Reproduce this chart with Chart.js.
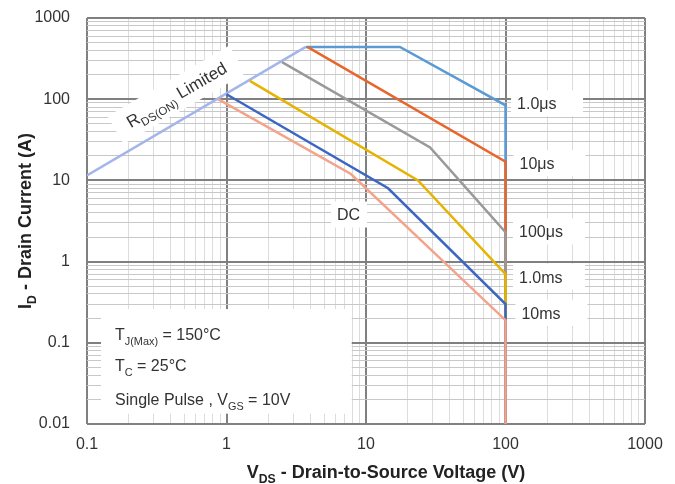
<!DOCTYPE html>
<html lang="en">
<head>
  <meta charset="UTF-8">
  <title>Maximum Safe Operating Area</title>
  <script src="https://cdn.jsdelivr.net/npm/chart.js"></script>
  <style>
    html, body {
      margin: 0;
      padding: 0;
      background: #fff;
    }

    #wrap {
      width: 675px;
      height: 484px;
      position: relative;
    }
  </style>
</head>
<body>
  <div id="wrap"><canvas id="soa"></canvas></div>

  <script>
    // breakpoints: V_DS (V) and I_D (A)
    const rdsV = [0.1, 3.7];
    const rdsI = [11.5, 440];
    const us1V = [3.7, 17.5, 100, 100];
    const us1I = [440, 440, 84, 0.01];
    const us10V = [3.8, 100, 100];
    const us10I = [440, 17, 0.01];
    const us100V = [2.5, 28.8, 100, 100];
    const us100I = [286, 25.5, 2.3, 0.01];
    const ms1V = [1.47, 23.6, 100, 100];
    const ms1I = [168, 10, 0.7, 0.01];
    const ms10V = [1.0, 14.4, 100, 100];
    const ms10I = [115, 8, 0.3, 0.01];
    const dcV = [0.87, 7.8, 100, 100];
    const dcI = [100, 12, 0.19, 0.01];

    const xTickLabels = ['0.1', '1', '10', '100', '1000'];
    const yTickLabels = ['0.01', '0.1', '1', '10', '100', '1000'];

    const FONT = "'Liberation Sans', Arial, sans-serif";

    function pts(xs, ys) {
      return xs.map((x, i) => ({ x: x, y: ys[i] }));
    }

    // every 1..9 x 10^n between the first and last decade label
    function logTicks(labels) {
      const lo = parseFloat(labels[0]);
      const hi = parseFloat(labels[labels.length - 1]);
      const out = [];
      for (let d = lo; d <= hi * 1.0001; d = +(d * 10).toPrecision(6)) {
        for (let m = 1; m <= 9; m++) {
          const v = +(d * m).toPrecision(6);
          if (v <= hi * 1.0001) out.push({ value: v });
        }
      }
      return out;
    }

    function labelFor(labels, value) {
      const hit = labels.find(s => Math.abs(parseFloat(s) / value - 1) < 1e-6);
      return hit === undefined ? '' : hit;
    }

    function isDecade(v) {
      const l = Math.log10(v);
      return Math.abs(l - Math.round(l)) < 1e-6;
    }

    // text runs with subscripts: [['I'], ['D', true], [' - Drain']]
    function richWidth(ctx, parts, size, bold) {
      let w = 0;
      parts.forEach(p => {
        ctx.font = (bold ? 'bold ' : '') + (p[1] ? size * 0.68 : size) + 'px ' + FONT;
        w += ctx.measureText(p[0]).width;
      });
      return w;
    }

    function drawRich(ctx, parts, x, y, size, bold, align) {
      const w = richWidth(ctx, parts, size, bold);
      let cx = align === 'center' ? x - w / 2 : x;
      ctx.textAlign = 'left';
      ctx.textBaseline = 'alphabetic';
      parts.forEach(p => {
        ctx.font = (bold ? 'bold ' : '') + (p[1] ? size * 0.68 : size) + 'px ' + FONT;
        ctx.fillText(p[0], cx, y + (p[1] ? size * 0.3 : 0));
        cx += ctx.measureText(p[0]).width;
      });
      return w;
    }

    // curve labels, anchored in data units (left edge, vertical centre)
    const curveNotes = [
      { parts: [['1.0\u03bcs']], v: 121, a: 89, box: 72 },
      { parts: [['10\u03bcs']], v: 126, a: 16.2, box: 72 },
      { parts: [['100\u03bcs']], v: 125, a: 2.35, box: 72 },
      { parts: [['1.0ms']], v: 125, a: 0.65, box: 72 },
      { parts: [['10ms']], v: 130, a: 0.234, box: 72 },
      { parts: [['DC']], v: 6.2, a: 3.8, box: 36 }
    ];

    const notesPlugin = {
      id: 'notes',
      beforeDatasetsDraw(chart) {
        const ctx = chart.ctx;
        const xs = chart.scales.x;
        const ys = chart.scales.y;
        const size = 16;
        ctx.save();

        // conditions box
        const bx0 = xs.getPixelForValue(0.126);
        const bx1 = xs.getPixelForValue(7.9);
        const by0 = ys.getPixelForValue(0.26);
        const by1 = ys.getPixelForValue(0.0134);
        ctx.fillStyle = '#fff';
        ctx.fillRect(bx0, by0, bx1 - bx0, by1 - by0);
        ctx.fillStyle = '#333';
        drawRich(ctx, [['T'], ['J(Max)', true], [' = 150\u00b0C']], bx0 + 14, by0 + 31, size, false);
        drawRich(ctx, [['T'], ['C', true], [' = 25\u00b0C']], bx0 + 14, by0 + 62, size, false);
        drawRich(ctx, [['Single Pulse , V'], ['GS', true], [' = 10V']], bx0 + 14, by0 + 96, size, false);

        // labels for each curve
        curveNotes.forEach(n => {
          const x = xs.getPixelForValue(n.v);
          const y = ys.getPixelForValue(n.a);
          ctx.fillStyle = '#fff';
          ctx.fillRect(x - 6, y - 13, n.box, 26);
          ctx.fillStyle = '#333';
          drawRich(ctx, n.parts, x, y + size * 0.36, size, false);
        });

        // R_DS(ON) Limited, laid along the limit line
        const rx = xs.getPixelForValue(0.46);
        const ry = ys.getPixelForValue(98);
        const rParts = [['R'], ['DS(ON)', true], [' Limited']];
        const rw = richWidth(ctx, rParts, 17, false);
        ctx.translate(rx, ry);
        ctx.rotate(-Math.atan2(ys.getPixelForValue(1) - ys.getPixelForValue(10),
          xs.getPixelForValue(10) - xs.getPixelForValue(1)));
        ctx.fillStyle = '#fff';
        ctx.fillRect(-rw / 2 - 14, -22, rw + 28, 32);
        ctx.fillStyle = '#333';
        drawRich(ctx, rParts, 0, 0, 17, false, 'center');
        ctx.restore();
      },
      afterDraw(chart) {
        const ctx = chart.ctx;
        const area = chart.chartArea;
        ctx.save();
        ctx.fillStyle = '#222';
        drawRich(ctx, [['V'], ['DS', true], [' - Drain-to-Source Voltage (V)']],
          (area.left + area.right) / 2 + 20, 478, 18, true, 'center');
        ctx.translate(31, (area.top + area.bottom) / 2);
        ctx.rotate(-Math.PI / 2);
        drawRich(ctx, [['I'], ['D', true], [' - Drain Current (A)']], 0, 0, 18, true, 'center');
        ctx.restore();
      }
    };

    function gridOpts(minor) {
      return {
        color: c => (c.tick && isDecade(c.tick.value)) ? '#808080' : minor,
        lineWidth: c => (c.tick && isDecade(c.tick.value)) ? 2 : 1,
        drawTicks: false
      };
    }

    const line = (data, color) => ({
      data: data,
      borderColor: color,
      borderWidth: 2.5,
      pointRadius: 0,
      fill: false,
      tension: 0
    });

    const ctx = document.getElementById('soa').getContext('2d');
    new Chart(ctx, {
      type: 'line',
      data: {
        datasets: [
          line(pts(dcV, dcI), '#f4a38a'),
          line(pts(ms10V, ms10I), '#3b66c4'),
          line(pts(ms1V, ms1I), '#e5b300'),
          line(pts(us100V, us100I), '#999999'),
          line(pts(us10V, us10I), '#e8662c'),
          line(pts(us1V, us1I), '#5b9bd5'),
          line(pts(rdsV, rdsI), '#a3b5ea')
        ]
      },
      options: {
        responsive: true,
        maintainAspectRatio: false,
        animation: false,
        layout: { padding: { top: 18, right: 30, left: 0, bottom: 0 } },
        plugins: {
          legend: { display: false },
          tooltip: { enabled: false }
        },
        scales: {
          x: {
            type: 'logarithmic',
            min: 0.1,
            max: 1000,
            afterBuildTicks: axis => { axis.ticks = logTicks(xTickLabels); },
            afterFit: scale => {
              scale.height = 60;
              scale.paddingLeft = 0;
              scale.paddingRight = 0;
            },
            grid: gridOpts('#dcdcdc'),
            border: { display: false },
            ticks: {
              autoSkip: false,
              maxRotation: 0,
              padding: 11,
              color: '#333',
              font: { family: FONT, size: 16 },
              callback: v => labelFor(xTickLabels, v)
            }
          },
          y: {
            type: 'logarithmic',
            min: 0.01,
            max: 1000,
            afterBuildTicks: axis => { axis.ticks = logTicks(yTickLabels); },
            afterFit: scale => {
              scale.width = 87;
              scale.paddingTop = 0;
              scale.paddingBottom = 0;
            },
            grid: gridOpts('#c8c8c8'),
            border: { display: false },
            ticks: {
              autoSkip: false,
              padding: 17,
              color: '#333',
              font: { family: FONT, size: 16 },
              callback: v => labelFor(yTickLabels, v)
            }
          }
        }
      },
      plugins: [notesPlugin]
    });
  </script>
</body>
</html>
